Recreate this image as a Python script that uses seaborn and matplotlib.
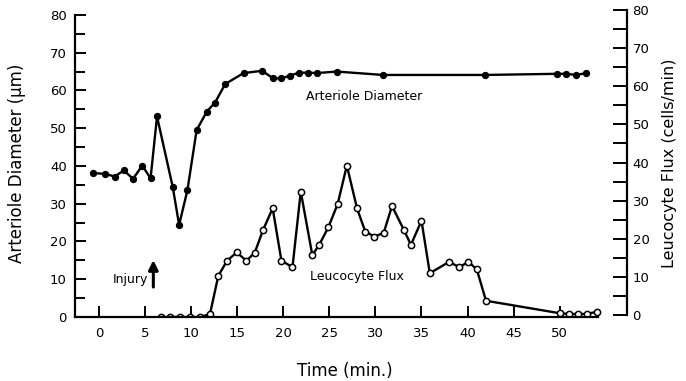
import matplotlib
matplotlib.use('Agg')
import matplotlib.pyplot as plt
import seaborn as sns

# arteriole diameter (filled dots), um
diam_t = [-0.6, 0.7, 1.7, 2.7, 3.7, 4.7, 5.6, 6.3, 8.0, 8.7, 9.6, 10.6, 11.7, 12.6, 13.7,
          15.7, 17.7, 18.9, 19.8, 20.7, 21.7, 22.7, 23.7, 25.8, 30.8, 41.9, 49.7, 50.7, 51.8, 52.9]
diam = [38.1, 37.9, 37.2, 38.8, 36.6, 40.1, 36.7, 53.1, 34.5, 24.4, 33.6, 49.5, 54.4, 56.8, 61.7,
        64.6, 65.2, 63.2, 63.2, 63.9, 64.7, 64.7, 64.6, 65.0, 64.1, 64.1, 64.4, 64.4, 64.1, 64.6]

# leucocyte flux (open circles), cells/min
flux_t = [6.7, 7.7, 8.8, 9.9, 11.0, 12.05, 12.95, 13.9, 14.95, 16.0, 16.9, 17.8, 18.85, 19.8,
          21.0, 21.9, 23.15, 23.9, 24.9, 25.9, 26.9, 28.0, 28.9, 29.9, 30.9, 31.8, 33.1, 33.85,
          35.0, 35.9, 38.0, 39.1, 40.1, 41.0, 42.0, 50.0, 51.0, 52.0, 53.0, 54.0]
flux = [0, 0, 0, 0, 0, 0.8, 10.9, 14.9, 17.1, 14.9, 17.0, 23.0, 28.8, 14.9,
        13.2, 33.2, 16.4, 19.1, 23.8, 29.9, 40.1, 28.8, 22.6, 21.3, 22.3, 29.4, 23.0, 19.1,
        25.5, 11.6, 14.6, 13.2, 14.6, 12.6, 4.3, 1.0, 0.8, 0.8, 0.8, 1.4]

x_ticks = list(range(0, 55, 5))
y_ticks = list(range(0, 90, 10))

sns.set_style('ticks')
plt.rcParams['font.family'] = ['DejaVu Sans']
plt.rcParams['text.color'] = 'black'
plt.rcParams['axes.labelcolor'] = 'black'
plt.rcParams['xtick.color'] = 'black'
plt.rcParams['ytick.color'] = 'black'

fig = plt.figure(figsize=(6.86, 3.81), dpi=100)
ax = fig.add_axes([75 / 686, 1 - 317 / 381, 552 / 686, 307 / 381])

sns.lineplot(x=diam_t, y=diam, ax=ax, color='black', lw=1.7, marker='o',
             markersize=4.5, markerfacecolor='black', markeredgecolor='black')
sns.lineplot(x=flux_t, y=flux, ax=ax, color='black', lw=1.7, marker='o',
             markersize=4.5, markerfacecolor='white', markeredgecolor='black',
             markeredgewidth=1.1)

ax.set_xlim(-2.6, 57.3)
ax.set_ylim(0, 81.3)
ax.set_xticks(x_ticks)
ax.set_yticks(y_ticks)
ax.set_yticks(list(range(5, 80, 10)), minor=True)
ax.tick_params(axis='both', direction='in', length=8, width=1.4, labelsize=9.5)
ax.tick_params(axis='y', which='minor', direction='in', length=7, width=1.4)
ax.tick_params(axis='y', pad=6)
ax.tick_params(axis='x', pad=7)
for s in ['top', 'right']:
    ax.spines[s].set_visible(False)
ax.spines['left'].set_bounds(0, 80)
ax.spines['bottom'].set_bounds(-2.6, 54.1)
for s in ['left', 'bottom']:
    ax.spines[s].set_linewidth(1.6)
    ax.spines[s].set_color('black')

ax2 = ax.twinx()
ax2.set_ylim(-0.5, 80)
ax2.set_yticks(y_ticks)
ax2.set_yticks(list(range(5, 80, 10)), minor=True)
ax2.tick_params(axis='y', which='both', direction='in', length=10, width=1.4,
                labelsize=9.5, pad=4)
for s in ['top', 'left', 'bottom']:
    ax2.spines[s].set_visible(False)
ax2.spines['right'].set_bounds(0, 80)
ax2.spines['right'].set_linewidth(1.6)
ax2.spines['right'].set_color('black')

ax.set_xlabel('Time (min.)', fontsize=12)
ax.xaxis.set_label_coords(0.489, -0.147)
ax.set_ylabel('Arteriole Diameter (μm)', fontsize=12)
ax.yaxis.set_label_coords(-0.088, 0.5)
ax2.set_ylabel('Leucocyte Flux (cells/min)', fontsize=11.5, rotation=90)
ax2.yaxis.set_label_coords(1.063, 0.5)

ax.text(22.5, 58.4, 'Arteriole Diameter', fontsize=9, ha='left', va='center')
ax.text(22.9, 10.7, 'Leucocyte Flux', fontsize=9, ha='left', va='center')
ax.text(5.3, 9.8, 'Injury', fontsize=9, ha='right', va='center')
ax.annotate('', xy=(5.9, 15.8), xytext=(5.9, 7.2),
            arrowprops=dict(arrowstyle='-|>', color='black', lw=2.2, mutation_scale=14))

fig.savefig('out.png', dpi=100)
